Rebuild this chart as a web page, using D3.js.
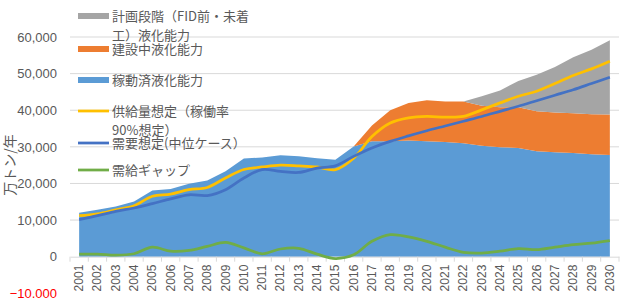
<!DOCTYPE html>
<html><head><meta charset="utf-8">
<script src="https://cdn.jsdelivr.net/npm/d3@7"></script>
<style>
html,body{margin:0;padding:0;background:#fff;}
svg{display:block;}
</style></head>
<body>
<script>
const years = ["2001","2002","2003","2004","2005","2006","2007","2008","2009","2010","2011","2012","2013","2014","2015","2016","2017","2018","2019","2020","2021","2022","2023","2024","2025","2026","2027","2028","2029","2030"];
const operating = [12000,12800,13700,15100,18100,18500,19900,20800,23300,26800,27100,27700,27400,26900,26500,30100,31500,31500,31700,31500,31300,31000,30300,29900,29700,28800,28500,28300,28000,27800];
const construction = [0,0,0,0,0,0,0,0,0,0,0,0,0,0,0,0,4300,8500,10300,11200,11100,11400,10900,10900,11100,10900,10900,10900,10900,11000];
const planned = [0,0,0,0,0,0,0,0,0,0,0,0,0,0,0,0,0,0,0,0,0,0,2600,4600,7200,10000,12400,15300,17600,20300];
const supply = [11200,11700,12800,13900,16500,17100,18300,18900,21500,23800,24500,25000,24800,24500,23800,26900,32800,36500,37900,38300,38100,38300,40100,42000,43800,45200,47300,49500,51300,53400];
const demand = [10100,11200,12400,13300,14500,15800,16900,16700,18300,21500,23800,23300,23000,24200,24800,27400,29700,31500,33000,34400,35700,37000,38300,39700,41100,42600,44100,45600,47300,49000];
const gap = [700,700,400,800,2600,1500,1700,2800,3900,2400,800,2100,2300,700,-500,500,4200,6000,5400,4200,2600,1200,1000,1500,2200,1900,2600,3300,3700,4400];
const yTicks = [-10000,0,10000,20000,30000,40000,50000,60000];

(function(){
const W = 623, H = 298;
const pLeft = 70, pRight = 619, pTop = 37, pBottom = 293.3;
const svg = d3.select("body").append("svg").attr("width", W).attr("height", H);

const x = d3.scaleBand().domain(years).range([pLeft, pRight]).padding(0);
const cx = d => x(d) + x.bandwidth()/2;
const y = d3.scaleLinear().domain([-10000, 60000]).range([pBottom, pTop]);

const textCol = "#595959";
const numFont = "'Liberation Sans', Arial, sans-serif";
const jpFont = "'Noto Sans CJK JP', sans-serif";

// gridlines
svg.append("g").selectAll("line").data(yTicks.filter(v => v > 0)).join("line")
  .attr("x1", pLeft).attr("x2", pRight).attr("y1", d => y(d)).attr("y2", d => y(d))
  .attr("stroke", "#d9d9d9").attr("stroke-width", 1);

// y axis labels
const yAxis = d3.axisLeft(y).tickValues(yTicks).tickSize(0).tickPadding(0).tickFormat(d3.format(","));
const gy = svg.append("g").attr("transform", `translate(${pLeft-13},0)`).call(yAxis);
gy.select(".domain").remove();
gy.selectAll("text").attr("font-family", numFont).attr("font-size", 13)
  .attr("fill", d => d < 0 ? "#ff0000" : textCol);

// stacked areas
const table = years.map((yr, i) => ({year: yr, op: operating[i], con: construction[i], plan: planned[i]}));
const stack = d3.stack().keys(["op","con","plan"]);
const series = stack(table);
const areaColors = {op: "#5b9bd5", con: "#ed7d31", plan: "#a5a5a5"};
const area = d3.area().x(d => cx(d.data.year)).y0(d => y(d[0])).y1(d => y(d[1]));
svg.append("g").selectAll("path").data(series).join("path")
  .attr("d", area).attr("fill", d => areaColors[d.key]);

// x axis
const xAxis = d3.axisBottom(x).tickSize(0).tickPadding(0);
const gx = svg.append("g").attr("transform", `translate(0,${y(0)})`).call(xAxis);
gx.select(".domain").attr("stroke", "#d9d9d9");
gx.selectAll("text").attr("font-family", numFont).attr("font-size", 12).attr("fill", textCol)
  .attr("text-anchor", "end").attr("dy", null)
  .attr("transform", "translate(4,8) rotate(-90)");
// tick marks at band boundaries
svg.append("g").selectAll("line").data(years.concat(["end"])).join("line")
  .attr("x1", (d,i) => pLeft + i*x.bandwidth()).attr("x2", (d,i) => pLeft + i*x.bandwidth())
  .attr("y1", y(0)).attr("y2", y(0)+5).attr("stroke", "#d9d9d9");

// lines
const lineGen = arr => d3.line().x((d,i) => cx(years[i])).y(d => y(d)).curve(d3.curveCatmullRom.alpha(0.5))(arr);
const lines = [
  {data: supply, color: "#ffc000"},
  {data: demand, color: "#4472c4"},
  {data: gap, color: "#70ad47"}
];
svg.append("g").selectAll("path").data(lines).join("path")
  .attr("d", d => lineGen(d.data)).attr("fill", "none").attr("stroke", d => d.color)
  .attr("stroke-width", 2.75).attr("stroke-linejoin", "round");

// legend
const legend = [
  {type: "rect", color: "#a5a5a5", y: 16, lines: ["計画段階（FID前・未着", "工）液化能力"]},
  {type: "rect", color: "#ed7d31", y: 49, lines: ["建設中液化能力"]},
  {type: "rect", color: "#5b9bd5", y: 80, lines: ["稼動済液化能力"]},
  {type: "line", color: "#ffc000", y: 111, lines: ["供給量想定（稼働率", "90%想定）"]},
  {type: "line", color: "#4472c4", y: 143, lines: ["需要想定(中位ケース）"]},
  {type: "line", color: "#70ad47", y: 170, lines: ["需給ギャップ"]}
];
const lg = svg.append("g");
legend.forEach(it => {
  if (it.type === "rect") {
    lg.append("rect").attr("x", 78).attr("y", it.y - 3).attr("width", 31).attr("height", 6).attr("fill", it.color);
  } else {
    lg.append("line").attr("x1", 78).attr("x2", 109).attr("y1", it.y).attr("y2", it.y)
      .attr("stroke", it.color).attr("stroke-width", 2.75);
  }
  it.lines.forEach((t, j) => {
    lg.append("text").attr("x", 112).attr("y", it.y + j*19).attr("dy", "0.36em")
      .attr("font-family", jpFont).attr("font-size", 13).attr("fill", textCol).text(t);
  });
});

// y title
svg.append("text").attr("transform", "translate(10,165) rotate(-90)")
  .attr("text-anchor", "middle").attr("dy", "0.36em")
  .attr("font-family", jpFont).attr("font-size", 14).attr("fill", textCol).text("万トン/年");
})();
</script>
</body></html>
